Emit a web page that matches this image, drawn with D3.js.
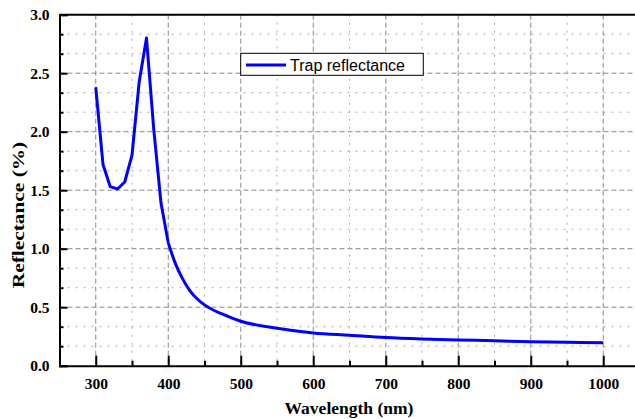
<!DOCTYPE html>
<html>
<head>
<meta charset="utf-8">
<script src="https://cdn.jsdelivr.net/npm/d3@7"></script>
<style>
  html, body { margin: 0; padding: 0; background: #fff; }
  svg { display: block; }
</style>
</head>
<body>
<div id="chart"></div>
<script>
// wavelength (nm) and trap reflectance (%)
const wavelength = [300, 310, 320, 330, 340, 350, 360, 370, 380, 390, 400, 410, 420, 430, 440, 450,
  475, 500, 550, 600, 650, 700, 750, 800, 850, 900, 950, 1000];
const reflectance = [2.38, 1.72, 1.53, 1.51, 1.57, 1.80, 2.43, 2.80, 2.02, 1.39, 1.05, 0.87, 0.74, 0.64, 0.57, 0.52,
  0.44, 0.38, 0.32, 0.28, 0.26, 0.24, 0.228, 0.22, 0.213, 0.205, 0.20, 0.196];
const xTicks = [300, 400, 500, 600, 700, 800, 900, 1000];
const xMinor = [250, 350, 450, 550, 650, 750, 850, 950, 1050];
const yTicks = [0, 0.5, 1.0, 1.5, 2.0, 2.5, 3.0];
const yMinor = d3.range(0, 18).map(i => i / 6).filter(v => Math.abs(v * 2 - Math.round(v * 2)) > 1e-6);
const seriesName = "Trap reflectance";

const width = 635, height = 419;
const plotLeft = 59.5, plotRight = 639.5, plotTop = 14.7, plotBottom = 365.7;

const data = wavelength.map((w, i) => ({ w, r: reflectance[i] }));

const x = d3.scaleLinear().domain([250, 1050]).range([plotLeft, plotRight]);
const y = d3.scaleLinear().domain([0, 3]).range([plotBottom, plotTop]);

const svg = d3.select("#chart").append("svg")
  .attr("width", width)
  .attr("height", height);

svg.append("rect").attr("width", width).attr("height", height).attr("fill", "#fff");

// grid
const grid = svg.append("g");
grid.selectAll(".vmin").data(xMinor).join("line")
  .attr("x1", d => x(d)).attr("x2", d => x(d))
  .attr("y1", plotTop).attr("y2", plotBottom)
  .attr("stroke", "#aaa").attr("stroke-dasharray", "2,6");
grid.selectAll(".hmin").data(yMinor).join("line")
  .attr("x1", plotLeft).attr("x2", plotRight)
  .attr("y1", d => y(d)).attr("y2", d => y(d))
  .attr("stroke", "#aaa").attr("stroke-dasharray", "2,6");
grid.selectAll(".vmaj").data(xTicks).join("line")
  .attr("x1", d => x(d)).attr("x2", d => x(d))
  .attr("y1", plotTop).attr("y2", plotBottom)
  .attr("stroke", "#888").attr("stroke-dasharray", "5,3");
grid.selectAll(".hmaj").data(yTicks.filter(v => v > 0 && v < 3)).join("line")
  .attr("x1", plotLeft).attr("x2", plotRight)
  .attr("y1", d => y(d)).attr("y2", d => y(d))
  .attr("stroke", "#888").attr("stroke-dasharray", "5,3");

// curve: straight segments through the sampled peak, smooth over the decay
const line = d3.line().x(d => x(d.w)).y(d => y(d.r));
const split = wavelength.indexOf(400);
svg.append("path")
  .datum(data.slice(0, split + 1))
  .attr("fill", "none")
  .attr("stroke", "#0000ff")
  .attr("stroke-width", 3)
  .attr("stroke-linejoin", "round")
  .attr("d", line.curve(d3.curveLinear));
svg.append("path")
  .datum(data.slice(split))
  .attr("fill", "none")
  .attr("stroke", "#0000ff")
  .attr("stroke-width", 3)
  .attr("stroke-linejoin", "round")
  .attr("d", line.curve(d3.curveMonotoneX));

// axes
const fontSerif = "'Liberation Serif', 'Times New Roman', serif";

svg.append("g")
  .attr("transform", `translate(0,${plotBottom})`)
  .call(d3.axisBottom(x).tickValues(xTicks).tickFormat(d3.format("d")).tickSize(-10).tickPadding(12));
svg.append("g")
  .attr("transform", `translate(0,${plotBottom})`)
  .call(d3.axisBottom(x).tickValues(xMinor).tickFormat("").tickSize(-5))
  .call(g => g.select(".domain").remove());

svg.append("g")
  .attr("transform", `translate(${plotLeft},0)`)
  .call(d3.axisLeft(y).tickValues(yTicks).tickFormat(d3.format(".1f")).tickSize(-8).tickPadding(10));
svg.append("g")
  .attr("transform", `translate(${plotLeft},0)`)
  .call(d3.axisLeft(y).tickValues(yMinor).tickFormat("").tickSize(-4))
  .call(g => g.select(".domain").remove());

svg.selectAll(".domain").attr("stroke", "#000").attr("stroke-width", 2);
svg.selectAll(".tick line").attr("stroke", "#000").attr("stroke-width", 2);
svg.selectAll(".tick text")
  .attr("font-family", fontSerif)
  .attr("font-size", 15.5)
  .attr("font-weight", "bold")
  .attr("fill", "#000");

// top and right frame
svg.append("line")
  .attr("x1", plotLeft).attr("x2", plotRight)
  .attr("y1", plotTop).attr("y2", plotTop)
  .attr("stroke", "#000").attr("stroke-width", 2);
svg.append("line")
  .attr("x1", plotRight).attr("x2", plotRight)
  .attr("y1", plotTop).attr("y2", plotBottom)
  .attr("stroke", "#000").attr("stroke-width", 2);

// axis titles
svg.append("text")
  .attr("x", 349).attr("y", 414)
  .attr("text-anchor", "middle")
  .attr("font-family", fontSerif)
  .attr("font-size", 17.5)
  .attr("font-weight", "bold")
  .text("Wavelength (nm)");

svg.append("text")
  .attr("transform", "translate(24,215) scale(1,1.22) rotate(-90)")
  .attr("text-anchor", "middle")
  .attr("font-family", fontSerif)
  .attr("font-size", 17.5)
  .attr("font-weight", "bold")
  .text("Reflectance (%)");

// legend
const legend = svg.append("g");
legend.append("rect")
  .attr("x", 240.7).attr("y", 53.3)
  .attr("width", 182.6).attr("height", 22)
  .attr("fill", "#fff").attr("stroke", "#000").attr("stroke-width", 1);
legend.append("line")
  .attr("x1", 246).attr("x2", 286)
  .attr("y1", 65).attr("y2", 65)
  .attr("stroke", "#0000ff").attr("stroke-width", 3);
legend.append("text")
  .attr("x", 290).attr("y", 71)
  .attr("font-family", "'Liberation Sans', Arial, sans-serif")
  .attr("font-size", 16)
  .attr("fill", "#000")
  .text(seriesName);
</script>
</body>
</html>
